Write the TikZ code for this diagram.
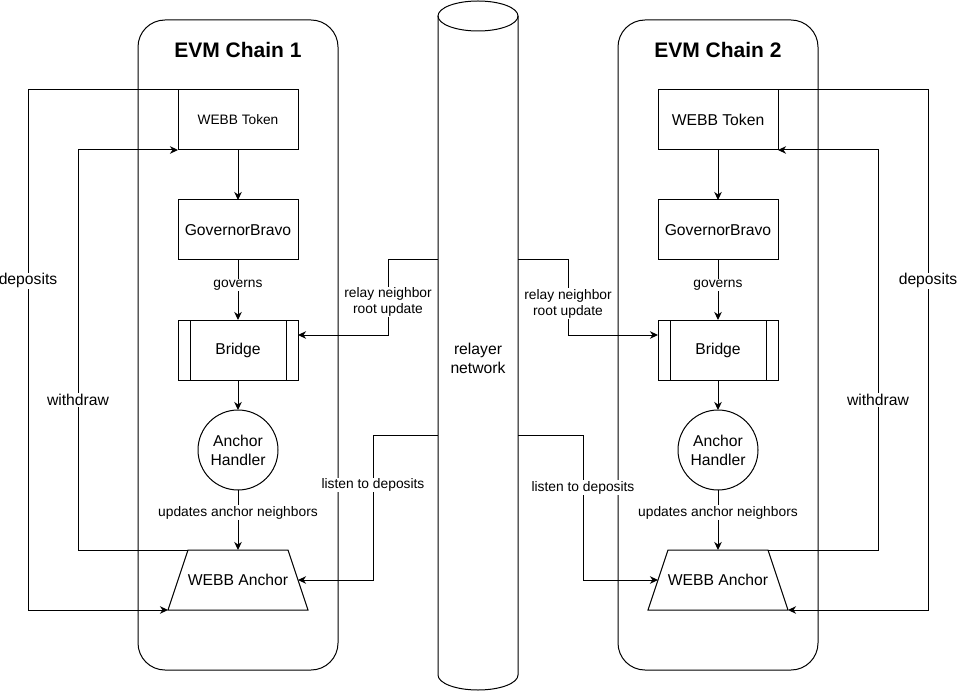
\documentclass[tikz,border=0pt]{standalone}
\usepackage{fontspec}
\setmainfont{Liberation Sans}
\usetikzlibrary{arrows.meta,calc}
\begin{document}
\begin{tikzpicture}[x=1pt,y=-1pt,line width=1pt,
  bigfont/.style={font=\fontsize{15.7}{19}\selectfont},
  container/.style={draw,rounded corners=27pt,minimum width=200pt,minimum height=650pt,inner sep=0pt,outer sep=0pt},
  ttl/.style={font=\fontsize{21}{24}\selectfont\bfseries},
  box/.style={draw,minimum width=120pt,minimum height=60pt,inner sep=0pt,outer sep=0pt,bigfont},
  circ/.style={draw,circle,minimum size=80pt,inner sep=0pt,outer sep=0pt,align=center,bigfont},
  traptext/.style={minimum width=100pt,minimum height=60pt,inner sep=0pt,outer sep=0pt,bigfont},
  lbl/.style={fill=white,inner sep=1pt,align=center,font=\fontsize{13.8}{16}\selectfont},
  biglbl/.style={fill=white,inner sep=1pt,bigfont},
  arr/.style={-{Stealth[length=8pt,width=7.5pt,inset=2.5pt]}},
]
\useasboundingbox (0,0) rectangle (960,692);

% relayer network cylinder
\draw (438,16) -- (438,675) arc[start angle=180,end angle=0,x radius=40,y radius=15] -- (518,16);
\draw (478,16) ellipse [x radius=40,y radius=15];
\node[align=center,bigfont] (relay) at (478,358) {relayer\\network};
\coordinate (r1) at (438,260);
\coordinate (l1) at (438,435);
\coordinate (r2) at (518,260);
\coordinate (l2) at (518,435);

% ---------- Chain 1 ----------
\node[container] (c1) at (238,345) {};
\node[ttl] (t1) at (238,50) {EVM Chain 1};
\node[box,font=\fontsize{13.7}{16}\selectfont] (tok1) at (238,120) {WEBB Token};
\node[box] (gov1) at (238,230) {GovernorBravo};
\node[box] (br1) at (238,350) {Bridge};
\draw ([xshift=12pt]br1.north west) -- ([xshift=12pt]br1.south west);
\draw ([xshift=-12pt]br1.north east) -- ([xshift=-12pt]br1.south east);
\node[circ] (ah1) at (238,450) {Anchor\\Handler};
\node[traptext] (an1) at (238,580) {WEBB Anchor};
\coordinate (an1tl) at (188,550);
\coordinate (an1tr) at (288,550);
\coordinate (an1bl) at (168,610);
\coordinate (an1br) at (308,610);
\coordinate (an1r) at (298,580);
\draw (an1tl) -- (an1tr) -- (an1br) -- (an1bl) -- cycle;

\draw[arr] (tok1) -- (gov1);
\draw[arr] (gov1) -- node[lbl,pos=0.42]{governs} (br1);
\draw[arr] (br1) -- (ah1);
\draw[arr] (ah1) -- node[lbl,pos=0.38]{updates anchor neighbors} (an1.north);
\draw[arr] (tok1.north west) -- (28,90) -- node[biglbl,pos=0.367]{deposits} (28,610) -- (an1bl);
\draw[arr] (an1tl) -- (78,550) -- node[biglbl,pos=0.375]{withdraw} (78,150) -- (tok1.south west);
\draw[arr] (r1) -- (388,260) -- node[lbl,pos=0.56]{relay neighbor\\root update} (388,335) -- ($(br1.north east)!0.25!(br1.south east)$);
\draw[arr] (l1) -- (373,435) -- node[lbl,pos=0.345]{listen to deposits} (373,580) -- (an1r);

% ---------- Chain 2 ----------
\node[container] (c2) at (718,345) {};
\node[ttl] (t2) at (718,50) {EVM Chain 2};
\node[box] (tok2) at (718,120) {WEBB Token};
\node[box] (gov2) at (718,230) {GovernorBravo};
\node[box] (br2) at (718,350) {Bridge};
\draw ([xshift=12pt]br2.north west) -- ([xshift=12pt]br2.south west);
\draw ([xshift=-12pt]br2.north east) -- ([xshift=-12pt]br2.south east);
\node[circ] (ah2) at (718,450) {Anchor\\Handler};
\node[traptext] (an2) at (718,580) {WEBB Anchor};
\coordinate (an2tl) at (668,550);
\coordinate (an2tr) at (768,550);
\coordinate (an2bl) at (648,610);
\coordinate (an2br) at (788,610);
\coordinate (an2l) at (658,580);
\draw (an2tl) -- (an2tr) -- (an2br) -- (an2bl) -- cycle;

\draw[arr] (tok2) -- (gov2);
\draw[arr] (gov2) -- node[lbl,pos=0.42]{governs} (br2);
\draw[arr] (br2) -- (ah2);
\draw[arr] (ah2) -- node[lbl,pos=0.38]{updates anchor neighbors} (an2.north);
\draw[arr] (tok2.north east) -- (928,90) -- node[biglbl,pos=0.367]{deposits} (928,610) -- (an2br);
\draw[arr] (an2tr) -- (878,550) -- node[biglbl,pos=0.375]{withdraw} (878,150) -- (tok2.south east);
\draw[arr] (r2) -- (568,260) -- node[lbl,pos=0.58]{relay neighbor\\root update} (568,335) -- ($(br2.north west)!0.25!(br2.south west)$);
\draw[arr] (l2) -- (583,435) -- node[lbl,pos=0.365]{listen to deposits} (583,580) -- (an2l);
\end{tikzpicture}
\end{document}
